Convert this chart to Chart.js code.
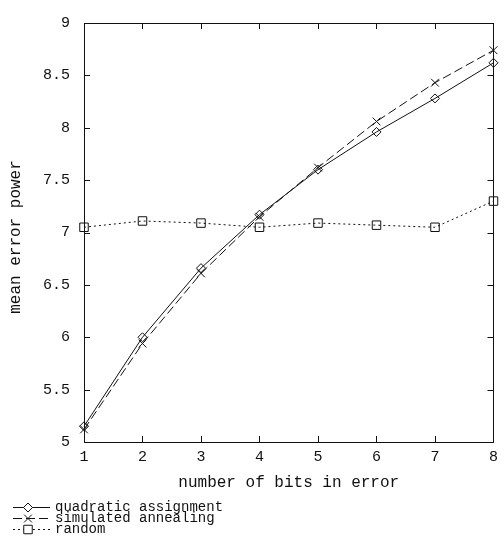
<!DOCTYPE html>
<html>
<head>
<meta charset="utf-8">
<script src="https://cdn.jsdelivr.net/npm/chart.js@4"></script>
<style>
  html, body { margin: 0; padding: 0; background: #fff; }
  canvas { display: block; }
</style>
</head>
<body>
<canvas id="chart" width="504" height="536"></canvas>
<script>
const bits = [1, 2, 3, 4, 5, 6, 7, 8];
const quadratic = [5.15, 6.0, 6.66, 7.17, 7.6, 7.96, 8.28, 8.62];
const annealing = [5.12, 5.94, 6.61, 7.15, 7.62, 8.06, 8.43, 8.74];
const random = [7.05, 7.11, 7.09, 7.05, 7.09, 7.07, 7.05, 7.30];
const seriesNames = ["quadratic assignment", "simulated annealing", "random"];
const xTicks = [1, 2, 3, 4, 5, 6, 7, 8];
const yTicks = [5, 5.5, 6, 6.5, 7, 7.5, 8, 8.5, 9];
const yTitle = "mean error power";

const MONO = '"Liberation Mono", "DejaVu Sans Mono", monospace';
const INK = "#111";

// gnuplot style box with inward ticks on all four sides
const frameTicks = {
  id: "frameTicks",
  beforeDatasetsDraw(chart) {
    const { ctx, chartArea: a, scales } = chart;
    const len = 6;
    ctx.save();
    ctx.strokeStyle = INK;
    ctx.lineWidth = 1;
    ctx.beginPath();
    ctx.rect(Math.round(a.left) + 0.5, Math.round(a.top) + 0.5,
             Math.round(a.right - a.left), Math.round(a.bottom - a.top));
    scales.x.ticks.forEach(t => {
      const px = Math.round(scales.x.getPixelForValue(t.value)) + 0.5;
      ctx.moveTo(px, a.bottom); ctx.lineTo(px, a.bottom - len);
      ctx.moveTo(px, a.top); ctx.lineTo(px, a.top + len);
    });
    scales.y.ticks.forEach(t => {
      const py = Math.round(scales.y.getPixelForValue(t.value)) + 0.5;
      ctx.moveTo(a.left, py); ctx.lineTo(a.left + len, py);
      ctx.moveTo(a.right, py); ctx.lineTo(a.right - len, py);
    });
    ctx.stroke();
    ctx.restore();
  }
};

// y title sits a little below the middle of the plot, as in the original
const sideTitle = {
  id: "sideTitle",
  afterDraw(chart) {
    const { ctx } = chart;
    ctx.save();
    ctx.translate(16, 237);
    ctx.rotate(-Math.PI / 2);
    ctx.fillStyle = INK;
    ctx.font = "16px " + MONO;
    ctx.textAlign = "center";
    ctx.textBaseline = "middle";
    ctx.fillText(yTitle, 0, 0);
    ctx.restore();
  }
};

// key below the plot: sample line, marker, name
const keyBelow = {
  id: "keyBelow",
  afterDraw(chart) {
    const { ctx } = chart;
    const rows = [507, 518, 529];
    ctx.save();
    chart.data.datasets.forEach((ds, i) => {
      const y = rows[i] + 0.5;
      ctx.strokeStyle = ds.borderColor;
      ctx.lineWidth = 1;
      ctx.setLineDash(ds.borderDash || []);
      ctx.beginPath();
      ctx.moveTo(13, y); ctx.lineTo(50, y);
      ctx.stroke();
      ctx.setLineDash([]);
      ctx.fillStyle = "#fff";
      Chart.helpers.drawPoint(ctx, {
        pointStyle: ds.pointStyle, radius: ds.pointRadius,
        borderWidth: 1, rotation: 0
      }, 28, y);
      ctx.fillStyle = INK;
      ctx.font = "14px " + MONO;
      ctx.textBaseline = "middle";
      ctx.fillText(ds.label, 55, rows[i]);
    });
    ctx.restore();
  }
};

const series = [quadratic, annealing, random];
const styles = [
  { pointStyle: "rectRot", pointRadius: 4.5, borderDash: [] },
  { pointStyle: "crossRot", pointRadius: 5.5, borderDash: [9, 4] },
  { pointStyle: "rect", pointRadius: 6, borderDash: [2, 3] }
];

new Chart(document.getElementById("chart"), {
  type: "line",
  data: {
    datasets: series.map((vals, i) => ({
      label: seriesNames[i],
      data: bits.map((b, j) => ({ x: b, y: vals[j] })),
      borderColor: INK,
      borderWidth: 1,
      backgroundColor: "#fff",
      pointBackgroundColor: "rgba(0,0,0,0)",
      pointBorderColor: INK,
      pointBorderWidth: 1,
      tension: 0,
      clip: false,
      ...styles[i]
    }))
  },
  options: {
    responsive: false,
    animation: false,
    devicePixelRatio: 1,
    layout: { padding: { top: 16, right: 4, left: 0, bottom: 0 } },
    plugins: {
      legend: { display: false },
      tooltip: { enabled: false }
    },
    scales: {
      x: {
        type: "linear",
        min: 1,
        max: 8,
        afterBuildTicks: s => { s.ticks = xTicks.map(v => ({ value: v })); },
        afterFit: s => { s.height = 94; },
        grid: { display: false, drawTicks: false },
        border: { display: false },
        ticks: {
          font: { family: MONO, size: 15 }, color: INK, padding: 6,
          maxRotation: 0, autoSkip: false, callback: v => String(v)
        },
        title: {
          display: true,
          text: "number of bits in error",
          font: { family: MONO, size: 16 },
          color: INK,
          padding: { top: 0, bottom: 44 }
        }
      },
      y: {
        type: "linear",
        min: 5,
        max: 9,
        afterBuildTicks: s => { s.ticks = yTicks.map(v => ({ value: v })); },
        afterFit: s => { s.width = 84; },
        grid: { display: false, drawTicks: false },
        border: { display: false },
        ticks: {
          font: { family: MONO, size: 15 }, color: INK, padding: 14,
          autoSkip: false, callback: v => String(v)
        }
      }
    }
  },
  plugins: [frameTicks, sideTitle, keyBelow]
});
</script>
</body>
</html>
